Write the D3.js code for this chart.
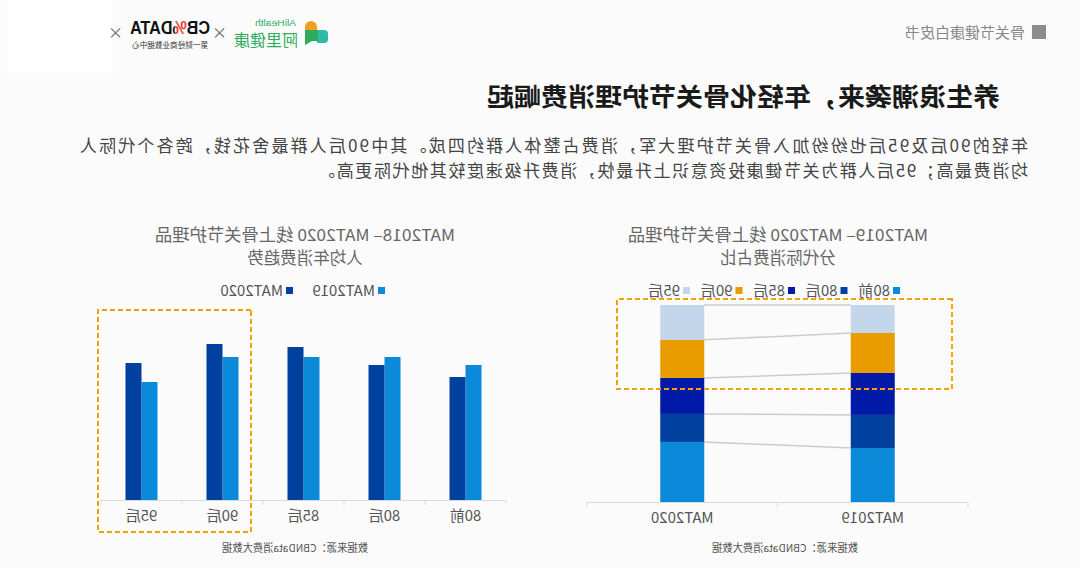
<!DOCTYPE html>
<html>
<head>
<meta charset="utf-8">
<script src="https://cdn.jsdelivr.net/npm/d3@7"></script>
<style>
  body { margin: 0; background: #fbfbfb; }
  svg { display: block; font-family: "Noto Sans CJK SC", "Noto Sans", sans-serif; }
</style>
</head>
<body>
<div id="chart"></div>
<script>
// chart values
const ageGroups = ["80前", "80后", "85后", "90后", "95后"];
const periods = ["MAT2019", "MAT2020"];
const perCapita2019 = [135, 143, 143, 143, 118];
const perCapita2020 = [123, 135, 153, 156, 137];
const share2019 = [27.4, 16.8, 21.3, 20.3, 14.2];
const share2020 = [30.5, 14.2, 18.3, 19.3, 17.7];
const ageColors = ["#0a8ad8", "#0041a0", "#0019a6", "#e89c00", "#c4d6ea"];
const periodColors = ["#0a8ad8", "#0041a0"];

const width = 1080, height = 568;

const svg = d3.select("#chart").append("svg")
    .attr("width", width)
    .attr("height", height);

// red middle part of the CB%DATA logo word
const grad = svg.append("defs").append("linearGradient")
    .attr("id", "cbfill").attr("gradientUnits", "userSpaceOnUse")
    .attr("x1", 870).attr("x2", 950).attr("y1", 0).attr("y2", 0);
[[0, "#111"], [0.285, "#111"], [0.285, "#e23c2c"], [0.44, "#e23c2c"], [0.44, "#111"], [1, "#111"]]
    .forEach(s => grad.append("stop").attr("offset", s[0]).attr("stop-color", s[1]));

// the reference is a mirrored picture, so everything is drawn then flipped
const root = svg.append("g")
    .attr("transform", `translate(${width},0) scale(-1,1)`);

root.append("rect").attr("x", 967).attr("y", 0).attr("width", 106).attr("height", 73).attr("fill", "#ffffff");

// header
root.append("rect").attr("x", 34).attr("y", 25).attr("width", 14).attr("height", 14).attr("fill", "#8c8c8c");
root.append("text").attr("x", 55).attr("y", 38).attr("font-size", 15).attr("fill", "#888")
    .text("骨关节健康白皮书");

// logos
const logo = root.append("g");
logo.append("path")
    .attr("d", "M763,30 L763,27 A6,6 0 0 1 775,27 L775,30 Z")
    .attr("fill", "#f0a020");
logo.append("path")
    .attr("d", "M752,34 A4,4 0 0 1 756,30 L763,30 L763,43 L756,43 A4,4 0 0 1 752,39 Z")
    .attr("fill", "#2dbaa8");
logo.append("path")
    .attr("d", "M762,30 L775,30 L775,45 L768,41 L762,41 Z")
    .attr("fill", "#2eab5c");
logo.append("text").attr("x", 784).attr("y", 26).attr("font-size", 9.5).attr("fill", "#2eab5c")
    .attr("font-family", "Liberation Sans, sans-serif")
    .attr("textLength", 41).attr("lengthAdjust", "spacingAndGlyphs")
    .text("AliHealth");
logo.append("text").attr("x", 782).attr("y", 46).attr("font-size", 16).attr("fill", "#2eab5c")
    .attr("textLength", 64).attr("lengthAdjust", "spacingAndGlyphs")
    .text("阿里健康");
logo.append("text").attr("x", 853).attr("y", 38).attr("font-size", 15).attr("fill", "#666").text("×");
logo.append("text").attr("x", 870).attr("y", 34).attr("font-size", 18)
    .attr("font-weight", "bold").attr("fill", "url(#cbfill)").attr("font-family", "Liberation Sans, sans-serif")
    .attr("textLength", 80).attr("lengthAdjust", "spacingAndGlyphs")
    .text("CB%DATA");
logo.append("text").attr("x", 872).attr("y", 48).attr("font-size", 7.5).attr("fill", "#333")
    .attr("textLength", 76).text("第一财经商业数据中心");
logo.append("text").attr("x", 957).attr("y", 38).attr("font-size", 15).attr("fill", "#666").text("×");

// title and text
root.append("text").attr("x", 80).attr("y", 106).attr("font-size", 25).attr("font-weight", "bold")
    .attr("fill", "#1a1a1a").attr("textLength", 513).attr("lengthAdjust", "spacingAndGlyphs")
    .text("养生浪潮袭来，年轻化骨关节护理消费崛起");
root.append("text").attr("x", 52).attr("y", 152).attr("font-size", 17).attr("fill", "#444")
    .attr("textLength", 948).attr("lengthAdjust", "spacing")
    .text("年轻的90后及95后也纷纷加入骨关节护理大军，消费占整体人群约四成。其中90后人群最舍花钱，跨各个代际人");
root.append("text").attr("x", 52).attr("y", 177).attr("font-size", 17).attr("fill", "#444")
    .attr("textLength", 710).attr("lengthAdjust", "spacing")
    .text("均消费最高；95后人群为关节健康投资意识上升最快，消费升级速度较其他代际更高。");

function chartTitle(cx, line1, line2) {
    root.append("text").attr("x", cx - 150).attr("y", 241)
        .attr("font-size", 16.5).attr("fill", "#666")
        .attr("textLength", 300).attr("lengthAdjust", "spacingAndGlyphs").text(line1);
    root.append("text").attr("x", cx).attr("y", 264).attr("text-anchor", "middle")
        .attr("font-size", 16.5).attr("fill", "#666").text(line2);
}

function bottomAxis(scale, y) {
    const g = root.append("g").attr("transform", `translate(0,${y})`)
        .call(d3.axisBottom(scale).tickSize(0).tickSizeOuter(0).tickPadding(10));
    g.select(".domain").attr("stroke", "#d9d9d9").attr("stroke-width", 1.2);
    g.selectAll("text").attr("font-size", 15).attr("fill", "#555")
        .attr("font-family", "Noto Sans CJK SC, sans-serif");
    const edges = scale.domain().map(d => scale(d)).concat([scale.range()[1]]);
    g.selectAll(".sep").data(edges).enter().append("line")
        .attr("x1", d => d).attr("x2", d => d).attr("y1", 0).attr("y2", 5)
        .attr("stroke", "#d9d9d9");
}

// ---- per capita bars (right side before flipping)
chartTitle(775, "MAT2018– MAT2020 线上骨关节护理品", "人均年消费趋势");

const legend1 = root.append("g").selectAll("g").data(periods).enter().append("g")
    .attr("transform", (d, i) => `translate(${695 + i * 92},0)`);
legend1.append("rect").attr("y", 287).attr("width", 7).attr("height", 7).attr("fill", (d, i) => periodColors[i]);
legend1.append("text").attr("x", 10).attr("y", 296).attr("font-size", 15).attr("fill", "#555").text(d => d);

const x = d3.scaleBand().domain(ageGroups).range([574, 979]);
const xInner = d3.scaleBand().domain(periods).range([-16, 16]);
const y = d3.scaleLinear().domain([0, 200]).range([500, 300]);

const barData = [];
ageGroups.forEach((a, i) => {
    barData.push({ age: a, period: periods[0], value: perCapita2019[i] });
    barData.push({ age: a, period: periods[1], value: perCapita2020[i] });
});

root.append("g").selectAll("rect").data(barData).enter().append("rect")
    .attr("x", d => x(d.age) + x.bandwidth() / 2 + xInner(d.period))
    .attr("y", d => y(d.value))
    .attr("width", xInner.bandwidth())
    .attr("height", d => y(0) - y(d.value))
    .attr("fill", d => periodColors[periods.indexOf(d.period)]);

bottomAxis(x, 500);

root.append("rect").attr("x", 829).attr("y", 310).attr("width", 153).attr("height", 222)
    .attr("fill", "none").attr("stroke", "#f0a000").attr("stroke-width", 2).attr("stroke-dasharray", "5,3");

root.append("text").attr("x", 712).attr("y", 552).attr("font-size", 11).attr("fill", "#555")
    .attr("textLength", 146).attr("lengthAdjust", "spacingAndGlyphs")
    .text("数据来源：CBNData消费大数据");

// ---- share stacked bars (left side before flipping)
chartTitle(302, "MAT2019– MAT2020 线上骨关节护理品", "分代际消费占比");

const legend2 = root.append("g").selectAll("g").data(ageGroups).enter().append("g")
    .attr("transform", (d, i) => `translate(${180 + i * 52.5},0)`);
legend2.append("rect").attr("y", 287).attr("width", 7).attr("height", 7).attr("fill", (d, i) => ageColors[i]);
legend2.append("text").attr("x", 10).attr("y", 296).attr("font-size", 15).attr("fill", "#555").text(d => d);

const xs = d3.scaleBand().domain(periods).range([112, 493]);
const ys = d3.scaleLinear().domain([0, 100]).range([502, 305]);
const barW = 44;

const shareRows = periods.map((p, j) => {
    const row = { period: p };
    const vals = j === 0 ? share2019 : share2020;
    ageGroups.forEach((a, i) => row[a] = vals[i]);
    return row;
});
const stacked = d3.stack().keys(ageGroups)(shareRows);

// connector lines between the two bars
const cum = shareRows.map(r => {
    let s = 0;
    return ageGroups.map(a => (s += r[a]));
});
root.append("g").selectAll("line").data(ageGroups).enter().append("line")
    .attr("x1", xs(periods[0]) + xs.bandwidth() / 2 + barW / 2)
    .attr("x2", xs(periods[1]) + xs.bandwidth() / 2 - barW / 2)
    .attr("y1", (d, i) => ys(cum[0][i]))
    .attr("y2", (d, i) => ys(cum[1][i]))
    .attr("stroke", "#cccccc").attr("stroke-width", 1.5);

root.append("g").selectAll("g").data(stacked).enter().append("g")
    .attr("fill", (d, i) => ageColors[i])
    .selectAll("rect").data(d => d).enter().append("rect")
    .attr("x", d => xs(d.data.period) + xs.bandwidth() / 2 - barW / 2)
    .attr("y", d => ys(d[1]))
    .attr("width", barW)
    .attr("height", d => ys(d[0]) - ys(d[1]));

bottomAxis(xs, 502);

root.append("rect").attr("x", 128).attr("y", 299).attr("width", 335).attr("height", 90)
    .attr("fill", "none").attr("stroke", "#f0a000").attr("stroke-width", 2).attr("stroke-dasharray", "5,3");

root.append("text").attr("x", 222).attr("y", 552).attr("font-size", 11).attr("fill", "#555")
    .attr("textLength", 146).attr("lengthAdjust", "spacingAndGlyphs")
    .text("数据来源：CBNData消费大数据");
</script>
</body>
</html>
